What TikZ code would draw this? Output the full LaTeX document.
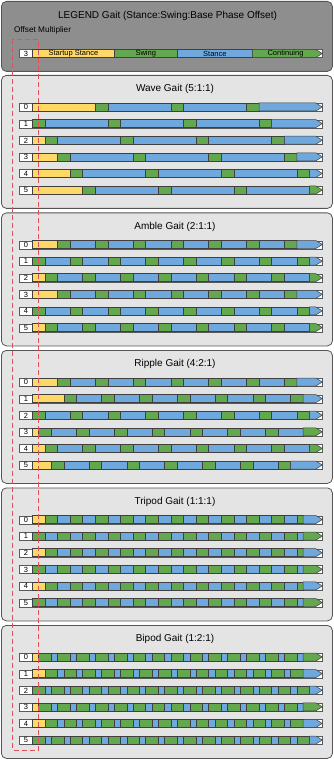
\documentclass[tikz,border=0pt]{standalone}
\usepackage{fontspec}
\setmainfont{Liberation Sans}
\definecolor{cyellow}{HTML}{FFD966}
\definecolor{cgreen}{HTML}{63A84E}
\definecolor{cblue}{HTML}{6FA8DC}
\definecolor{clegend}{HTML}{8E8E8E}
\definecolor{cpanel}{HTML}{E4E4E4}
\definecolor{cborder}{HTML}{555555}
\definecolor{cred}{HTML}{E0505A}
\newcount\gpos \newcount\gend \newcount\gphase \newcount\gst \newcount\gsw
\newcount\glim \newcount\gcut
\def\garrow#1#2{% start (half units), colour
  \draw[seg, fill=#2] ({32.3+#1*6.3},\gy) -- (315.8,\gy) -- (322.3,{\gy+4}) -- (315.8,{\gy+8}) -- ({32.3+#1*6.3},{\gy+8}) -- cycle;}
\def\gstep{%
  \ifnum\gphase=0 \def\gcol{cgreen}\def\gnxt{cblue}\gend=\numexpr\gpos+\gsw\relax
  \else \def\gcol{cblue}\def\gnxt{cgreen}\gend=\numexpr\gpos+\gst\relax \fi
  \ifnum\gcut>0 \ifnum\gend>\gcut
      \draw[seg, fill=\gcol] ({32.3+\the\gpos*6.3},\gy) rectangle ({32.3+\the\gcut*6.3},{\gy+8});
      \garrow{\the\gcut}{\gnxt}%
      \gend=-1
  \fi\fi
  \ifnum\gend<0 \let\gnext\relax
  \else\ifnum\gend<\glim
    \draw[seg, fill=\gcol] ({32.3+\the\gpos*6.3},\gy) rectangle ({32.3+\the\gend*6.3},{\gy+8});
    \gpos=\gend \gphase=\numexpr1-\gphase\relax
    \let\gnext\gstep
  \else
    \garrow{\the\gpos}{\gcol}%
    \let\gnext\relax
  \fi\fi
  \gnext}
% name, ytop, label, startup (half units), end threshold, cut point (0 = none)
\newcommand\gaitrow[6]{%
  \node (#1) [rowbox, anchor=north west] at (19,#2) {};
  \node (#1-n) [idxbox, anchor=north west] at (19,#2) {#3};
  \def\gy{#2}%
  \gpos=#4\relax \glim=#5\relax \gcut=#6\relax
  \ifnum\gpos>0 \draw[seg, fill=cyellow] (32.3,\gy) rectangle ({32.3+#4*6.3},{\gy+8});\fi
  \gphase=0
  \gstep}
% name, top, title, stance, swing
\newcommand\gaitpanel[5]{%
  \node (#1) [panel, fill=cpanel, anchor=north west] at (1,#2) {};
  \node (#1-title) [ptitle] at (175,{#2+14}) {#3};
  \gst=#4\relax \gsw=#5\relax}
\tikzset{
  panel/.style={draw=cborder, line width=0.8pt, rounded corners=5pt, minimum width=331pt, minimum height=133pt, inner sep=0pt},
  ptitle/.style={font=\fontsize{10}{12}\selectfont, inner sep=0pt},
  seg/.style={draw=black!75, line width=0.5pt},
  rowbox/.style={draw=black!65, fill=white, line width=0.6pt, minimum width=303.3pt, minimum height=8pt, inner sep=0pt},
  idxbox/.style={draw=black!65, fill=white, line width=0.6pt, minimum width=13.3pt, minimum height=8pt, inner sep=0pt, font=\fontsize{7.5}{8}\selectfont},
  lgseg/.style={seg, anchor=north west, minimum height=8pt, inner sep=0pt, font=\fontsize{7.5}{8}\selectfont},
}
\begin{document}
\begin{tikzpicture}[x=1pt,y=-1pt]
\useasboundingbox (0,0) rectangle (333,759);
% legend
\node (legend) [panel, fill=clegend, anchor=north west, minimum height=70pt] at (1,1) {};
\node (legend-title) [ptitle] at (167.5,16) {LEGEND Gait (Stance:Swing:Base Phase Offset)};
\node (offset-label) [anchor=west, inner sep=0pt, font=\fontsize{8.2}{10}\selectfont] at (14,30.3) {Offset Multiplier};
\node (lg) [rowbox, anchor=north west] at (19,49.5) {};
\node (lg-n) [idxbox, anchor=north west] at (19,49.5) {3};
\node (lg-start) [lgseg, fill=cyellow, minimum width=81.7pt] at (32.3,49.5) {Startup Stance};
\node (lg-swing) [lgseg, fill=cgreen, minimum width=63pt] at (114,49.5) {Swing};
\node (lg-stance) [lgseg, fill=cblue, minimum width=75.3pt] at (177,49.5) {Stance};
\draw[seg, fill=cgreen] (252.3,49.5) -- (315.8,49.5) -- (322.3,53.5) -- (315.8,57.5) -- (252.3,57.5) -- cycle;
\node (lg-cont) [inner sep=0pt, font=\fontsize{7.5}{8}\selectfont] at (285.5,53.5) {Continuing};
% wave
\gaitpanel{wave}{75}{Wave Gait (5:1:1)}{10}{2}
\gaitrow{wave-r0}{103}{0}{10}{45}{0}
\gaitrow{wave-r1}{119.6}{1}{0}{45}{0}
\gaitrow{wave-r2}{136.2}{2}{2}{45}{0}
\gaitrow{wave-r3}{152.8}{3}{4}{45}{0}
\gaitrow{wave-r4}{169.4}{4}{6}{45}{0}
\gaitrow{wave-r5}{186}{5}{8}{45}{0}
% amble
\gaitpanel{amble}{212.5}{Amble Gait (2:1:1)}{4}{2}
\gaitrow{amble-r0}{240.5}{0}{4}{45}{0}
\gaitrow{amble-r1}{257.1}{1}{0}{45}{0}
\gaitrow{amble-r2}{273.7}{2}{2}{45}{0}
\gaitrow{amble-r3}{290.3}{3}{4}{45}{0}
\gaitrow{amble-r4}{306.9}{4}{0}{45}{0}
\gaitrow{amble-r5}{323.5}{5}{2}{45}{0}
% ripple
\gaitpanel{ripple}{350}{Ripple Gait (4:2:1)}{4}{2}
\gaitrow{ripple-r0}{378}{0}{4}{45}{0}
\gaitrow{ripple-r1}{394.6}{1}{5}{45}{0}
\gaitrow{ripple-r2}{411.2}{2}{0}{45}{0}
\gaitrow{ripple-r3}{427.8}{3}{1}{45}{0}
\gaitrow{ripple-r4}{444.4}{4}{2}{45}{0}
\gaitrow{ripple-r5}{461}{5}{3}{45}{0}
% tripod
\gaitpanel{tripod}{487.5}{Tripod Gait (1:1:1)}{2}{2}
\gaitrow{tripod-r0}{515.5}{0}{2}{45}{43}
\gaitrow{tripod-r1}{532.1}{1}{0}{45}{43}
\gaitrow{tripod-r2}{548.7}{2}{2}{45}{43}
\gaitrow{tripod-r3}{565.3}{3}{0}{45}{43}
\gaitrow{tripod-r4}{581.9}{4}{2}{45}{43}
\gaitrow{tripod-r5}{598.5}{5}{0}{45}{43}
% bipod
\gaitpanel{bipod}{625}{Bipod Gait (1:2:1)}{1}{2}
\gaitrow{bipod-r0}{653}{0}{1}{45}{0}
\gaitrow{bipod-r1}{669.6}{1}{2}{44}{0}
\gaitrow{bipod-r2}{686.2}{2}{0}{45}{0}
\gaitrow{bipod-r3}{702.8}{3}{1}{45}{0}
\gaitrow{bipod-r4}{719.4}{4}{2}{44}{0}
\gaitrow{bipod-r5}{736}{5}{0}{45}{0}
% offset multiplier box
\draw[cred, line width=0.9pt, dash pattern=on 5pt off 3pt] (12.7,39) rectangle (38.3,750);
\end{tikzpicture}
\end{document}
